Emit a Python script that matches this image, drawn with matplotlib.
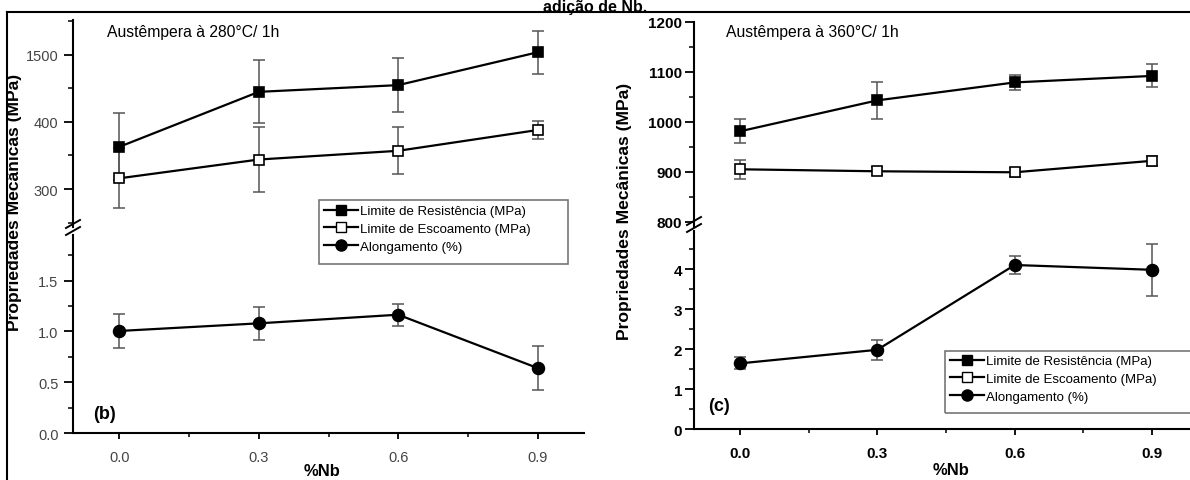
import matplotlib
matplotlib.use("Agg")
import matplotlib.pyplot as plt
from matplotlib.lines import Line2D
from matplotlib.patches import Rectangle
from matplotlib import font_manager as fm

# ---------------- data ----------------
nb = [0.0, 0.3, 0.6, 0.9]
x_ticks = [0.0, 0.3, 0.6, 0.9]
x_ticklabels = ["0.0", "0.3", "0.6", "0.9"]

# Austêmpera 280 °C / 1h  (panel b)
lr_280 = [363, 445, 455, 504]
lr_280_err = [50, 47, 40, 32]
le_280 = [316, 344, 357, 388]
le_280_err = [45, 48, 35, 14]
al_280 = [1.005, 1.08, 1.165, 0.64]
al_280_err = [0.165, 0.165, 0.11, 0.215]

# Austêmpera 360 °C / 1h  (panel c)
lr_360 = [981, 1043, 1079, 1092]
lr_360_err = [24, 37, 15, 23]
le_360 = [905, 901, 899, 922]
le_360_err = [19, 8, 9, 10]
al_360 = [1.64, 1.98, 4.10, 3.98]
al_360_err = [0.15, 0.25, 0.22, 0.65]

b_up_ticks = [300, 400, 500]
b_up_ticklabels = ["300", "400", "1500"]
b_lo_ticks = [0.0, 0.5, 1.0, 1.5]
b_lo_ticklabels = ["0.0", "0.5", "1.0", "1.5"]
c_up_ticks = [800, 900, 1000, 1100, 1200]
c_up_ticklabels = ["800", "900", "1000", "1100", "1200"]
c_lo_ticks = [0, 1, 2, 3, 4]
c_lo_ticklabels = ["0", "1", "2", "3", "4"]

series_labels = ["Limite de Resistência (MPa)", "Limite de Escoamento (MPa)", "Alongamento (%)"]
ylabel = "Propriedades Mecânicas (MPa)"
xlabel = "%Nb"
title_b = "Austêmpera à 280°C/ 1h"
title_c = "Austêmpera à 360°C/ 1h"
top_title = "adição de Nb."

# ---------------- fonts ----------------
names = {f.name for f in fm.fontManager.ttflist}
NARROW = "Liberation Sans Narrow" if "Liberation Sans Narrow" in names else "Liberation Sans"
SANS = "Liberation Sans"
FAM_N = [NARROW, "DejaVu Sans"]
FAM_S = [SANS, "DejaVu Sans"]
plt.rcParams["font.family"] = FAM_N

W, H = 1190, 481
fig = plt.figure(figsize=(W / 100, H / 100), dpi=100)


def fx(px):
    return px / W


def fy(py):
    return 1 - py / H


def rect(x0, x1, y0, y1):
    return [fx(x0), fy(y1), fx(x1) - fx(x0), fy(y0) - fy(y1)]


ax_b_up = fig.add_axes(rect(73, 584, 21, 228))
ax_b_lo = fig.add_axes(rect(73, 584, 236, 434))
ax_c_up = fig.add_axes(rect(694, 1198, 23, 227.7))
ax_c_lo = fig.add_axes(rect(694, 1198, 232, 430))

ECOL = "#555555"


def draw(ax, y, err, marker, mfc, ms):
    ax.errorbar(nb, y, yerr=err, fmt="none", ecolor=ECOL, elinewidth=1.1,
                capsize=4, capthick=1.1, zorder=2, clip_on=False)
    ax.plot(nb, y, color="black", lw=1.6, marker=marker, mfc=mfc, mec="black",
            ms=ms, mew=1.2, zorder=3, clip_on=False)


def setup(ax, ylim, ticks, labels, minor, lab_kw, lower, pad, xlab_kw):
    ax.patch.set_visible(False)
    ax.set_xlim(-0.1, 1.0)
    ax.set_ylim(*ylim)
    for s in ["top", "right"]:
        ax.spines[s].set_visible(False)
    ax.spines["left"].set_linewidth(1.5)
    ax.set_yticks(ticks)
    ax.set_yticklabels(labels, **lab_kw)
    ax.set_yticks(minor, minor=True)
    ax.tick_params(axis="y", which="major", direction="out", length=6.5, width=1.3, pad=pad)
    ax.tick_params(axis="y", which="minor", direction="out", length=3.5, width=1.1)
    if lower:
        ax.spines["bottom"].set_linewidth(1.5)
        ax.set_xticks(x_ticks)
        ax.set_xticklabels(x_ticklabels, **xlab_kw)
        ax.set_xticks([0.15, 0.45, 0.75], minor=True)
        ax.tick_params(axis="x", which="major", direction="out", length=4, width=1.3, pad=8)
        ax.tick_params(axis="x", which="minor", direction="out", length=3, width=1.1)
    else:
        ax.spines["bottom"].set_visible(False)
        ax.tick_params(axis="x", which="both", bottom=False, labelbottom=False)


lab_b = dict(fontsize=10.5, color="#444444", family=FAM_N)
lab_c = dict(fontsize=11, color="black", fontweight="bold", family=FAM_N)

# panel b
draw(ax_b_up, lr_280, lr_280_err, "s", "black", 7)
draw(ax_b_up, le_280, le_280_err, "s", "white", 7)
draw(ax_b_lo, al_280, al_280_err, "o", "black", 8.5)
setup(ax_b_up, (243.3, 552.2), b_up_ticks, b_up_ticklabels, [250, 350, 450, 550], lab_b, False, 4, None)
setup(ax_b_lo, (0, 1.95), b_lo_ticks, b_lo_ticklabels, [0.25, 0.75, 1.25, 1.75], lab_b, True, 4, lab_b)

# panel c
draw(ax_c_up, lr_360, lr_360_err, "s", "black", 7)
draw(ax_c_up, le_360, le_360_err, "s", "white", 7)
draw(ax_c_lo, al_360, al_360_err, "o", "black", 8.5)
setup(ax_c_up, (790, 1200), c_up_ticks, c_up_ticklabels, [850, 950, 1050, 1150], lab_c, False, 2, None)
setup(ax_c_lo, (0, 4.95), c_lo_ticks, c_lo_ticklabels, [0.5, 1.5, 2.5, 3.5, 4.5], lab_c, True, 2, lab_c)

# break marks
for (x0, y0) in [(66, 229), (66, 236), (687, 226), (687, 233)]:
    fig.add_artist(Line2D([fx(x0), fx(x0 + 14)], [fy(y0), fy(y0 - 8)],
                          transform=fig.transFigure, color="black", lw=1.4))

# legends
handles = [
    Line2D([], [], color="black", lw=1.6, marker="s", mfc="black", mec="black", ms=7),
    Line2D([], [], color="black", lw=1.6, marker="s", mfc="white", mec="black", ms=7),
    Line2D([], [], color="black", lw=1.6, marker="o", mfc="black", mec="black", ms=8),
]
leg_kw = dict(loc="upper left", bbox_transform=fig.transFigure, frameon=False,
              handlelength=2.6, handletextpad=0.1,
              labelspacing=0.42, borderpad=0, borderaxespad=0,
              prop={"family": FAM_N, "size": 9.5})
fig.legend(handles, series_labels, bbox_to_anchor=(fx(324), fy(206)), **leg_kw)
fig.legend(handles, series_labels, bbox_to_anchor=(fx(950), fy(356)), **leg_kw)
for (x0, y0, x1, y1) in [(319, 201, 568, 265), (945, 352, 1196, 414)]:
    fig.add_artist(Rectangle((fx(x0), fy(y1)), fx(x1) - fx(x0), fy(y0) - fy(y1),
                             transform=fig.transFigure, fill=False,
                             edgecolor="#777777", lw=1.2))

# texts
fig.text(fx(107), fy(33), title_b, fontsize=11.3, va="center", ha="left", family=FAM_N)
fig.text(fx(726), fy(33), title_c, fontsize=11.3, va="center", ha="left", family=FAM_N)
fig.text(fx(93), fy(415), "(b)", fontsize=13, fontweight="bold", va="center", ha="left", family=FAM_N)
fig.text(fx(708), fy(407), "(c)", fontsize=13, fontweight="bold", va="center", ha="left", family=FAM_N)
fig.text(fx(15), fy(202), ylabel, rotation=90, fontsize=12.6, fontweight="bold", va="center", ha="center", family=FAM_S)
fig.text(fx(625), fy(211), ylabel, rotation=90, fontsize=12.6, fontweight="bold", va="center", ha="center", family=FAM_S)
fig.text(fx(322), fy(472), xlabel, fontsize=12, fontweight="bold", va="center", ha="center", family=FAM_S)
fig.text(fx(951), fy(471), xlabel, fontsize=12, fontweight="bold", va="center", ha="center", family=FAM_S)
fig.text(fx(595), fy(12), top_title, fontsize=11.5, fontweight="bold", va="baseline", ha="center", family=FAM_S)

# image frame lines
fig.add_artist(Line2D([fx(7), 1], [fy(13), fy(13)], transform=fig.transFigure, color="black", lw=1.5))
fig.add_artist(Line2D([fx(7), fx(7)], [0, fy(13)], transform=fig.transFigure, color="black", lw=1.5))

fig.savefig("out.png", dpi=100)
